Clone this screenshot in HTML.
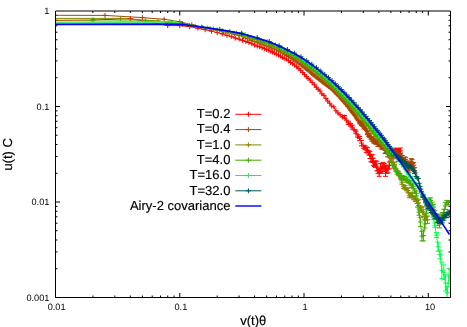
<!DOCTYPE html>
<html><head><meta charset="utf-8"><title>plot</title>
<style>html,body{margin:0;padding:0;background:#fff}svg{display:block;will-change:transform}</style>
</head><body>
<svg width="467" height="327" viewBox="0 0 467 327">
<rect width="467" height="327" fill="#fff"/>
<defs><clipPath id="c"><rect x="55.5" y="11.0" width="395.0" height="286.5"/></clipPath></defs>
<path d="M55.50 297.5v-4.5M55.50 11.0v4.5M92.91 297.5v-2.0M92.91 11.0v2.0M114.79 297.5v-2.0M114.79 11.0v2.0M130.32 297.5v-2.0M130.32 11.0v2.0M142.36 297.5v-2.0M142.36 11.0v2.0M152.20 297.5v-2.0M152.20 11.0v2.0M160.52 297.5v-2.0M160.52 11.0v2.0M167.72 297.5v-2.0M167.72 11.0v2.0M174.08 297.5v-2.0M174.08 11.0v2.0M179.77 297.5v-4.5M179.77 11.0v4.5M217.17 297.5v-2.0M217.17 11.0v2.0M239.06 297.5v-2.0M239.06 11.0v2.0M254.58 297.5v-2.0M254.58 11.0v2.0M266.63 297.5v-2.0M266.63 11.0v2.0M276.46 297.5v-2.0M276.46 11.0v2.0M284.78 297.5v-2.0M284.78 11.0v2.0M291.99 297.5v-2.0M291.99 11.0v2.0M298.35 297.5v-2.0M298.35 11.0v2.0M304.03 297.5v-4.5M304.03 11.0v4.5M341.44 297.5v-2.0M341.44 11.0v2.0M363.32 297.5v-2.0M363.32 11.0v2.0M378.85 297.5v-2.0M378.85 11.0v2.0M390.89 297.5v-2.0M390.89 11.0v2.0M400.73 297.5v-2.0M400.73 11.0v2.0M409.05 297.5v-2.0M409.05 11.0v2.0M416.26 297.5v-2.0M416.26 11.0v2.0M422.61 297.5v-2.0M422.61 11.0v2.0M428.30 297.5v-4.5M428.30 11.0v4.5M55.5 268.75h2.0M450.5 268.75h-2.0M55.5 251.93h2.0M450.5 251.93h-2.0M55.5 240.00h2.0M450.5 240.00h-2.0M55.5 230.75h2.0M450.5 230.75h-2.0M55.5 223.19h2.0M450.5 223.19h-2.0M55.5 216.79h2.0M450.5 216.79h-2.0M55.5 211.25h2.0M450.5 211.25h-2.0M55.5 206.37h2.0M450.5 206.37h-2.0M55.5 202.00h4.5M450.5 202.00h-4.5M55.5 173.25h2.0M450.5 173.25h-2.0M55.5 156.43h2.0M450.5 156.43h-2.0M55.5 144.50h2.0M450.5 144.50h-2.0M55.5 135.25h2.0M450.5 135.25h-2.0M55.5 127.69h2.0M450.5 127.69h-2.0M55.5 121.29h2.0M450.5 121.29h-2.0M55.5 115.75h2.0M450.5 115.75h-2.0M55.5 110.87h2.0M450.5 110.87h-2.0M55.5 106.50h4.5M450.5 106.50h-4.5M55.5 77.75h2.0M450.5 77.75h-2.0M55.5 60.93h2.0M450.5 60.93h-2.0M55.5 49.00h2.0M450.5 49.00h-2.0M55.5 39.75h2.0M450.5 39.75h-2.0M55.5 32.19h2.0M450.5 32.19h-2.0M55.5 25.79h2.0M450.5 25.79h-2.0M55.5 20.25h2.0M450.5 20.25h-2.0M55.5 15.37h2.0M450.5 15.37h-2.0" stroke="#000" stroke-width="1" fill="none"/>
<g clip-path="url(#c)" fill="none" stroke-width="1.0">
<path d="M100 21.6L125 19.6L150 19.8L182 22.6V23.6H100Z" fill="#7be8a0" fill-opacity="0.45" stroke="none"/>
<path d="M55.5 20.35L92.9 20L130.3 18.7L152.2 22.5L167.7 25.6L179.8 25.6L189.6 26.7L197.9 28.2L205.1 29.7L211.5 31.1L217.2 32.6L222.3 33.9L227 35.4L231.3 36.6L235.3 38.1L239.1 39.1L242.5 40.3L245.8 41.5L248.9 42.5L251.8 43.7L254.6 45L257.2 46.1L259.7 46.8L262.1 47.7L264.4 48.7L266.6 49.3L268.7 50.2L270.8 51.3L272.6 52.1L274.4 53L276.4 54.1L278.5 55L280.4 56.1L282.4 57.4L284.2 58.3L286.2 59.1L288.4 60.7L290.6 62.5L292.7 63.7L294.5 65.1L296.7 66.8L298.9 68.6L300.7 70.3L302.8 72.5L304.5 74.6L306.3 76.7L308.2 78.4L310.1 80L312.2 82.6L314.4 84.8L316.3 87.3L318.2 89.3L320 90.9L321.8 93.8L323.9 95.4L325.9 98.4L327.7 101L329.7 103.2L331.7 106L333.8 106.9L335.9 110.8L338 113L340 114.7L342.2 117L344.5 117.1L346.4 120.2L348.3 122.9L350.4 124.8L352.2 127.2L354.1 130L355.9 131.7L357.8 136L359.6 138.5L361.5 143.1L363.7 146.8L365 147.8L366.3 149.7L367.5 150.2L368.7 152.9L369.9 155L371 158.7L372.2 158.4L373.4 161.8L374.5 163.8L375.6 164.1L376.8 166.1L378 170.8L379.2 172.7L380.5 168.1L381.8 168.6L383 167L384.2 166.3L385.5 170.7L386.7 169.6L388 169.1L389.3 165.5L390.5 158.1L391.9 155.2L393 153.3L394.3 152.9L395.6 150.1L396.8 150.8L398 151.6L399.2 151.6L400.3 150.8" stroke="#ff0000"/>
<path d="M92.9 17.5v5M90.4 20h5M130.3 16.2v5M127.8 18.7h5M152.2 20v5M149.7 22.5h5M167.7 23.1v5M165.2 25.6h5M179.8 23.1v5M177.3 25.6h5M189.6 24.2v5M187.1 26.7h5M197.9 25.7v5M195.4 28.2h5M205.1 27.2v5M202.6 29.7h5M211.5 28.6v5M209 31.1h5M217.2 30.1v5M214.7 32.6h5M222.3 31.4v5M219.8 33.9h5M227 32.9v5M224.5 35.4h5M231.3 34.1v5M228.8 36.6h5M235.3 35.6v5M232.8 38.1h5M239.1 36.6v5M236.6 39.1h5M242.5 37.8v5M240 40.3h5M245.8 39v5M243.3 41.5h5M248.9 40v5M246.4 42.5h5M251.8 41.2v5M249.3 43.7h5M254.6 42.5v5M252.1 45h5M257.2 43.6v5M254.7 46.1h5M259.7 44.3v5M257.2 46.8h5M262.1 45.2v5M259.6 47.7h5M264.4 46.2v5M261.9 48.7h5M266.6 46.8v5M264.1 49.3h5M268.7 47.7v5M266.2 50.2h5M270.8 48.8v5M268.3 51.3h5M272.6 49.6v5M270.1 52.1h5M274.4 50.5v5M271.9 53h5M276.4 51.6v5M273.9 54.1h5M278.5 52.5v5M276 55h5M280.4 53.6v5M277.9 56.1h5M282.4 54.9v5M279.9 57.4h5M284.2 55.8v5M281.7 58.3h5M286.2 56.6v5M283.7 59.1h5M288.4 58.2v5M285.9 60.7h5M290.6 60v5M288.1 62.5h5M292.7 61.2v5M290.2 63.7h5M294.5 62.6v5M292 65.1h5M296.7 64.3v5M294.2 66.8h5M298.9 66.1v5M296.4 68.6h5M300.7 67.8v5M298.2 70.3h5M302.8 70v5M300.3 72.5h5M304.5 72.1v5M302 74.6h5M306.3 74.2v5M303.8 76.7h5M308.2 75.9v5M305.7 78.4h5M310.1 77.5v5M307.6 80h5M312.2 80.1v5M309.7 82.6h5M314.4 82.3v5M311.9 84.8h5M316.3 84.8v5M313.8 87.3h5M318.2 86.8v5M315.7 89.3h5M320 88.4v5M317.5 90.9h5M321.8 91.3v5M319.3 93.8h5M323.9 92.9v5M321.4 95.4h5M325.9 95.9v5M323.4 98.4h5M327.7 98.5v5M325.2 101h5M329.7 100.7v5M327.2 103.2h5M331.7 103.5v5M329.2 106h5M333.8 104.4v5M331.3 106.9h5M335.9 108.3v5M333.4 110.8h5M338 110.5v5M335.5 113h5M340 112.2v5M337.5 114.7h5M342.2 114.5v5M339.7 117h5M344.5 114.6v5M342 117.1h5M344.5 115.5V118.6M342 115.5h5M342 118.6h5M346.4 117.7v5M343.9 120.2h5M348.3 120.4v5M345.8 122.9h5M348.3 121.2V124.5M345.8 121.2h5M345.8 124.5h5M350.4 122.3v5M347.9 124.8h5M350.4 123.5V126.1M347.9 123.5h5M347.9 126.1h5M352.2 124.7v5M349.7 127.2h5M352.2 125.2V129.1M349.7 125.2h5M349.7 129.1h5M354.1 127.5v5M351.6 130h5M355.9 129.2v5M353.4 131.7h5M355.9 129.9V133.6M353.4 129.9h5M353.4 133.6h5M357.8 133.5v5M355.3 136h5M357.8 134.7V137.3M355.3 134.7h5M355.3 137.3h5M359.6 136v5M357.1 138.5h5M359.6 136.5V140.6M357.1 136.5h5M357.1 140.6h5M361.5 140.6v5M359 143.1h5M361.5 140.4V145.8M359 140.4h5M359 145.8h5M363.7 144.3v5M361.2 146.8h5M363.7 145.3V148.3M361.2 145.3h5M361.2 148.3h5M365 145.3v5M362.5 147.8h5M365 145.8V149.7M362.5 145.8h5M362.5 149.7h5M366.3 147.2v5M363.8 149.7h5M366.3 147V152.3M363.8 147h5M363.8 152.3h5M367.5 147.7v5M365 150.2h5M367.5 147.7V152.8M365 147.7h5M365 152.8h5M368.7 150.4v5M366.2 152.9h5M368.7 150.9V154.9M366.2 150.9h5M366.2 154.9h5M369.9 152.5v5M367.4 155h5M369.9 151.4V158.5M367.4 151.4h5M367.4 158.5h5M371 156.2v5M368.5 158.7h5M371 155.6V161.7M368.5 155.6h5M368.5 161.7h5M372.2 155.9v5M369.7 158.4h5M372.2 154.4V162.4M369.7 154.4h5M369.7 162.4h5M373.4 159.3v5M370.9 161.8h5M373.4 158.2V165.4M370.9 158.2h5M370.9 165.4h5M374.5 161.3v5M372 163.8h5M374.5 161.1V166.5M372 161.1h5M372 166.5h5M375.6 161.6v5M373.1 164.1h5M375.6 160.9V167.4M373.1 160.9h5M373.1 167.4h5M376.8 163.6v5M374.3 166.1h5M376.8 161.3V170.9M374.3 161.3h5M374.3 170.9h5M378 168.3v5M375.5 170.8h5M378 168V173.6M375.5 168h5M375.5 173.6h5M379.2 170.2v5M376.7 172.7h5M379.2 169.1V176.3M376.7 169.1h5M376.7 176.3h5M380.5 165.6v5M378 168.1h5M380.5 163.6V172.6M378 163.6h5M378 172.6h5M381.8 166.1v5M379.3 168.6h5M381.8 163.8V173.3M379.3 163.8h5M379.3 173.3h5M383 164.5v5M380.5 167h5M383 162.4V171.5M380.5 162.4h5M380.5 171.5h5M384.2 163.8v5M381.7 166.3h5M384.2 163.6V169M381.7 163.6h5M381.7 169h5M385.5 168.2v5M383 170.7h5M385.5 165.2V176.3M383 165.2h5M383 176.3h5M386.7 167.1v5M384.2 169.6h5M386.7 165.8V173.4M384.2 165.8h5M384.2 173.4h5M388 166.6v5M385.5 169.1h5M388 165.3V172.9M385.5 165.3h5M385.5 172.9h5M389.3 163v5M386.8 165.5h5M389.3 162.1V168.9M386.8 162.1h5M386.8 168.9h5M390.5 155.6v5M388 158.1h5M390.5 155V161.1M388 155h5M388 161.1h5M391.9 152.7v5M389.4 155.2h5M391.9 152.8V157.6M389.4 152.8h5M389.4 157.6h5M393 150.8v5M390.5 153.3h5M393 150.7V155.9M390.5 150.7h5M390.5 155.9h5M394.3 150.4v5M391.8 152.9h5M394.3 149.6V156.3M391.8 149.6h5M391.8 156.3h5M395.6 147.6v5M393.1 150.1h5M395.6 148.2V152M393.1 148.2h5M393.1 152h5M396.8 148.3v5M394.3 150.8h5M396.8 149.5V152.1M394.3 149.5h5M394.3 152.1h5M398 149.1v5M395.5 151.6h5M398 148.8V154.4M395.5 148.8h5M395.5 154.4h5M399.2 149.1v5M396.7 151.6h5M399.2 149V154.3M396.7 149h5M396.7 154.3h5M400.3 148.3v5M397.8 150.8h5M400.3 148V153.6M397.8 148h5M397.8 153.6h5" stroke="#ff0000"/>
<path d="M55.5 15.30L105 15.4L142.4 17.6L164.2 19.3L179.8 21.8L191.8 24.7L201.6 27.2L210 28.8L217.2 30.3L223.5 31.7L229.2 32.9L234.4 34.1L239.1 35.3L243.4 36.9L247.4 38.5L251.1 40.3L254.6 41.6L257.9 42.8L260.9 43.9L263.9 45L266.6 45.9L269.3 47L271.8 48L274.2 48.9L276.5 50L278.7 51.2L280.8 52.1L282.8 53L284.8 54.3L286.7 55.4L288.5 56.5L290.3 57.4L292 58.5L293.7 59.8L295.3 60.7L296.8 61.8L298.3 63L299.8 63.9L301.3 65.1L302.7 65.9L304 67L305.4 68L306.7 69.2L307.9 70.1L309.2 71.1L310.4 72.1L311.6 73.3L312.7 74.3L313.9 75.1L315 76.1L316.1 76.9L317.1 77.7L318.2 78.6L319.2 79.5L320.2 79.8L321.2 81L322.2 81.8L323.1 82.2L324.1 83.1L325 83.8L325.9 84.3L326.8 85L327.7 85.7L328.5 86.3L329.4 86.8L330.2 87.6L331.1 88.1L331.9 88.7L332.6 89.5L333.4 90.3L334.2 91L335 92.2L335.7 92.8L336.6 93.8L337.5 94.3L338.2 95L339.1 96L339.8 96.8L340.6 98L341.4 99L342.3 99.6L343.1 100.7L343.8 101.5L344.6 102.3L345.5 103.7L346.3 104.4L347.1 105L347.8 106.5L348.7 107.1L349.4 108.1L350.1 109.2L350.8 110.4L351.6 111.3L352.4 112.5L353.2 113.3L354.1 114.3L354.9 115.6L355.7 116.8L356.5 118.2L357.3 119.2L358.1 120.7L359 121.1L359.8 122.4L360.7 122.8L361.5 124.3L362.4 126.2L363.2 124.9L364 127.6L364.8 128L365.7 129.4L366.4 130.5L367.3 133L368.1 133.9L368.9 135.2L369.6 135.8L370.4 137.4L371.2 138.1L371.9 139.3L372.6 138.5L373.5 140.9L374.3 141L375 142.1L375.8 142L376.5 142L377.2 142.1L378 144.7L378.8 143.8L379.5 143.5L380.3 144.7L381.2 146.7L381.9 145.2L382.7 147.2L383.5 147L384.3 147.4L385.1 150.5L385.9 150.3L386.8 148.9L387.6 153.8L388.4 151.6L389.2 154.1L390 152.8L390.9 153.9L391.6 154.8L392.5 154.3L393.2 155.1L394 155.4L394.8 154.1L395.6 154.4L396.4 155.5L397.3 156.2L398.2 158.2L399 157.7L399.8 157.3L400.7 155.6L401.5 158.1L402.3 158.3L403 162.2L403.8 163.8L404.7 159.6L405.5 159.3L406.4 165L407.2 168L408.1 163.2L408.8 170.9L409.6 164.9L410.5 166.6L411.2 161.8L412.1 163.2L412.8 165.8L413.7 165.2L414.5 170.6" stroke="#aa4400"/>
<path d="M105 12.9v5M102.5 15.4h5M142.4 15.1v5M139.9 17.6h5M164.2 16.8v5M161.7 19.3h5M179.8 19.3v5M177.3 21.8h5M191.8 22.2v5M189.3 24.7h5M201.6 24.7v5M199.1 27.2h5M210 26.3v5M207.5 28.8h5M217.2 27.8v5M214.7 30.3h5M223.5 29.2v5M221 31.7h5M229.2 30.4v5M226.7 32.9h5M234.4 31.6v5M231.9 34.1h5M239.1 32.8v5M236.6 35.3h5M243.4 34.4v5M240.9 36.9h5M247.4 36v5M244.9 38.5h5M251.1 37.8v5M248.6 40.3h5M254.6 39.1v5M252.1 41.6h5M257.9 40.3v5M255.4 42.8h5M260.9 41.4v5M258.4 43.9h5M263.9 42.5v5M261.4 45h5M266.6 43.4v5M264.1 45.9h5M269.3 44.5v5M266.8 47h5M271.8 45.5v5M269.3 48h5M274.2 46.4v5M271.7 48.9h5M276.5 47.5v5M274 50h5M278.7 48.7v5M276.2 51.2h5M280.8 49.6v5M278.3 52.1h5M282.8 50.5v5M280.3 53h5M284.8 51.8v5M282.3 54.3h5M286.7 52.9v5M284.2 55.4h5M288.5 54v5M286 56.5h5M290.3 54.9v5M287.8 57.4h5M292 56v5M289.5 58.5h5M293.7 57.3v5M291.2 59.8h5M295.3 58.2v5M292.8 60.7h5M296.8 59.3v5M294.3 61.8h5M298.3 60.5v5M295.8 63h5M299.8 61.4v5M297.3 63.9h5M301.3 62.6v5M298.8 65.1h5M302.7 63.4v5M300.2 65.9h5M304 64.5v5M301.5 67h5M305.4 65.5v5M302.9 68h5M306.7 66.7v5M304.2 69.2h5M307.9 67.6v5M305.4 70.1h5M309.2 68.6v5M306.7 71.1h5M310.4 69.6v5M307.9 72.1h5M311.6 70.8v5M309.1 73.3h5M312.7 71.8v5M310.2 74.3h5M313.9 72.6v5M311.4 75.1h5M315 73.6v5M312.5 76.1h5M316.1 74.4v5M313.6 76.9h5M317.1 75.2v5M314.6 77.7h5M318.2 76.1v5M315.7 78.6h5M319.2 77v5M316.7 79.5h5M320.2 77.3v5M317.7 79.8h5M321.2 78.5v5M318.7 81h5M322.2 79.3v5M319.7 81.8h5M323.1 79.7v5M320.6 82.2h5M324.1 80.6v5M321.6 83.1h5M325 81.3v5M322.5 83.8h5M325.9 81.8v5M323.4 84.3h5M326.8 82.5v5M324.3 85h5M327.7 83.2v5M325.2 85.7h5M328.5 83.8v5M326 86.3h5M329.4 84.3v5M326.9 86.8h5M330.2 85.1v5M327.7 87.6h5M331.1 85.6v5M328.6 88.1h5M331.9 86.2v5M329.4 88.7h5M332.6 87v5M330.1 89.5h5M333.4 87.8v5M330.9 90.3h5M334.2 88.5v5M331.7 91h5M335 89.7v5M332.5 92.2h5M335.7 90.3v5M333.2 92.8h5M336.6 91.3v5M334.1 93.8h5M337.5 91.8v5M335 94.3h5M338.2 92.5v5M335.7 95h5M339.1 93.5v5M336.6 96h5M339.8 94.3v5M337.3 96.8h5M340.6 95.5v5M338.1 98h5M341.4 96.5v5M338.9 99h5M342.3 97.1v5M339.8 99.6h5M343.1 98.2v5M340.6 100.7h5M343.8 99v5M341.3 101.5h5M344.6 99.8v5M342.1 102.3h5M345.5 101.2v5M343 103.7h5M346.3 101.9v5M343.8 104.4h5M347.1 102.5v5M344.6 105h5M347.8 104v5M345.3 106.5h5M348.7 104.6v5M346.2 107.1h5M349.4 105.6v5M346.9 108.1h5M350.1 106.7v5M347.6 109.2h5M350.8 107.9v5M348.3 110.4h5M351.6 108.8v5M349.1 111.3h5M352.4 110v5M349.9 112.5h5M353.2 110.8v5M350.7 113.3h5M354.1 111.8v5M351.6 114.3h5M354.9 113.1v5M352.4 115.6h5M355.7 114.3v5M353.2 116.8h5M356.5 115.7v5M354 118.2h5M357.3 116.7v5M354.8 119.2h5M358.1 118.2v5M355.6 120.7h5M359 118.6v5M356.5 121.1h5M359.8 119.9v5M357.3 122.4h5M359.8 121.1V123.6M357.3 121.1h5M357.3 123.6h5M360.7 120.3v5M358.2 122.8h5M360.7 121.5V124.1M358.2 121.5h5M358.2 124.1h5M361.5 121.8v5M359 124.3h5M361.5 123.1V125.6M359 123.1h5M359 125.6h5M362.4 123.7v5M359.9 126.2h5M363.2 122.4v5M360.7 124.9h5M363.2 123.6V126.1M360.7 123.6h5M360.7 126.1h5M364 125.1v5M361.5 127.6h5M364 126.2V129M361.5 126.2h5M361.5 129h5M364.8 125.5v5M362.3 128h5M365.7 126.9v5M363.2 129.4h5M366.4 128v5M363.9 130.5h5M367.3 130.5v5M364.8 133h5M367.3 131.5V134.6M364.8 131.5h5M364.8 134.6h5M368.1 131.4v5M365.6 133.9h5M368.9 132.7v5M366.4 135.2h5M368.9 133.9V136.5M366.4 133.9h5M366.4 136.5h5M369.6 133.3v5M367.1 135.8h5M369.6 133.9V137.7M367.1 133.9h5M367.1 137.7h5M370.4 134.9v5M367.9 137.4h5M371.2 135.6v5M368.7 138.1h5M371.2 136.7V139.4M368.7 136.7h5M368.7 139.4h5M371.9 136.8v5M369.4 139.3h5M371.9 137.4V141.3M369.4 137.4h5M369.4 141.3h5M372.6 136v5M370.1 138.5h5M372.6 136.9V140.1M370.1 136.9h5M370.1 140.1h5M373.5 138.4v5M371 140.9h5M373.5 138.7V143M371 138.7h5M371 143h5M374.3 138.5v5M371.8 141h5M374.3 139.6V142.3M371.8 139.6h5M371.8 142.3h5M375 139.6v5M372.5 142.1h5M375 140.6V143.5M372.5 140.6h5M372.5 143.5h5M375.8 139.5v5M373.3 142h5M375.8 139.8V144.2M373.3 139.8h5M373.3 144.2h5M376.5 139.5v5M374 142h5M376.5 140.5V143.4M374 140.5h5M374 143.4h5M377.2 139.6v5M374.7 142.1h5M377.2 140.3V144M374.7 140.3h5M374.7 144h5M378 142.2v5M375.5 144.7h5M378 142.9V146.4M375.5 142.9h5M375.5 146.4h5M378.8 141.3v5M376.3 143.8h5M378.8 141.4V146.2M376.3 141.4h5M376.3 146.2h5M379.5 141v5M377 143.5h5M379.5 142V144.9M377 142h5M377 144.9h5M380.3 142.2v5M377.8 144.7h5M380.3 142.8V146.7M377.8 142.8h5M377.8 146.7h5M381.2 144.2v5M378.7 146.7h5M381.2 144.5V149M378.7 144.5h5M378.7 149h5M381.9 142.7v5M379.4 145.2h5M381.9 142.7V147.7M379.4 142.7h5M379.4 147.7h5M382.7 144.7v5M380.2 147.2h5M382.7 145.1V149.3M380.2 145.1h5M380.2 149.3h5M383.5 144.5v5M381 147h5M383.5 144.6V149.4M381 144.6h5M381 149.4h5M384.3 144.9v5M381.8 147.4h5M384.3 145.6V149.2M381.8 145.6h5M381.8 149.2h5M385.1 148v5M382.6 150.5h5M385.1 147.5V153.4M382.6 147.5h5M382.6 153.4h5M385.9 147.8v5M383.4 150.3h5M385.9 147.9V152.7M383.4 147.9h5M383.4 152.7h5M386.8 146.4v5M384.3 148.9h5M386.8 146.3V151.4M384.3 146.3h5M384.3 151.4h5M387.6 151.3v5M385.1 153.8h5M387.6 150.8V156.9M385.1 150.8h5M385.1 156.9h5M388.4 149.1v5M385.9 151.6h5M388.4 149.2V154M385.9 149.2h5M385.9 154h5M389.2 151.6v5M386.7 154.1h5M389.2 151.8V156.5M386.7 151.8h5M386.7 156.5h5M390 150.3v5M387.5 152.8h5M390 150.1V155.5M387.5 150.1h5M387.5 155.5h5M390.9 151.4v5M388.4 153.9h5M390.9 150.9V156.9M388.4 150.9h5M388.4 156.9h5M391.6 152.3v5M389.1 154.8h5M391.6 153.1V156.6M389.1 153.1h5M389.1 156.6h5M392.5 151.8v5M390 154.3h5M392.5 152.7V155.9M390 152.7h5M390 155.9h5M393.2 152.6v5M390.7 155.1h5M393.2 152.3V157.8M390.7 152.3h5M390.7 157.8h5M394 152.9v5M391.5 155.4h5M394 153.1V157.8M391.5 153.1h5M391.5 157.8h5M394.8 151.6v5M392.3 154.1h5M394.8 151.6V156.6M392.3 151.6h5M392.3 156.6h5M395.6 151.9v5M393.1 154.4h5M395.6 150.9V157.9M393.1 150.9h5M393.1 157.9h5M396.4 153v5M393.9 155.5h5M396.4 153.1V158M393.9 153.1h5M393.9 158h5M397.3 153.7v5M394.8 156.2h5M397.3 153.7V158.7M394.8 153.7h5M394.8 158.7h5M398.2 155.7v5M395.7 158.2h5M398.2 155V161.4M395.7 155h5M395.7 161.4h5M399 155.2v5M396.5 157.7h5M399 155.6V159.9M396.5 155.6h5M396.5 159.9h5M399.8 154.8v5M397.3 157.3h5M399.8 154.7V160M397.3 154.7h5M397.3 160h5M400.7 153.1v5M398.2 155.6h5M400.7 153.1V158.1M398.2 153.1h5M398.2 158.1h5M401.5 155.6v5M399 158.1h5M401.5 155.3V160.8M399 155.3h5M399 160.8h5M402.3 155.8v5M399.8 158.3h5M402.3 155.5V161.1M399.8 155.5h5M399.8 161.1h5M403 159.7v5M400.5 162.2h5M403 160.2V164.3M400.5 160.2h5M400.5 164.3h5M403.8 161.3v5M401.3 163.8h5M403.8 161.3V166.3M401.3 161.3h5M401.3 166.3h5M404.7 157.1v5M402.2 159.6h5M404.7 157.1V162M402.2 157.1h5M402.2 162h5M405.5 156.8v5M403 159.3h5M405.5 157.3V161.3M403 157.3h5M403 161.3h5M406.4 162.5v5M403.9 165h5M406.4 161.9V168M403.9 161.9h5M403.9 168h5M407.2 165.5v5M404.7 168h5M407.2 165.5V170.5M404.7 165.5h5M404.7 170.5h5M408.1 160.7v5M405.6 163.2h5M408.1 161V165.4M405.6 161h5M405.6 165.4h5M408.8 168.4v5M406.3 170.9h5M408.8 168.9V172.8M406.3 168.9h5M406.3 172.8h5M409.6 162.4v5M407.1 164.9h5M409.6 162.3V167.6M407.1 162.3h5M407.1 167.6h5M410.5 164.1v5M408 166.6h5M410.5 164.3V168.8M408 164.3h5M408 168.8h5M411.2 159.3v5M408.7 161.8h5M411.2 158.6V165M408.7 158.6h5M408.7 165h5M412.1 160.7v5M409.6 163.2h5M412.1 159.6V166.7M409.6 159.6h5M409.6 166.7h5M412.8 163.3v5M410.3 165.8h5M412.8 163V168.5M410.3 163h5M410.3 168.5h5M413.7 162.7v5M411.2 165.2h5M413.7 162.6V167.9M411.2 162.6h5M411.2 167.9h5M414.5 168.1v5M412 170.6h5M414.5 167.7V173.5M412 167.7h5M412 173.5h5" stroke="#aa4400"/>
<path d="M55.5 18.40L120.5 18.4L157.9 20.9L179.8 23.5L195.3 26.3L207.3 28.4L217.2 30.1L225.5 31.7L232.7 33.1L239.1 34.6L244.7 36.2L249.9 38L254.6 39.6L258.9 41L262.9 42.3L266.6 43.6L270.1 44.9L273.4 46.2L276.5 47.5L279.4 49L282.2 50.3L284.8 51.6L287.3 52.9L289.7 54.2L292 55.5L294.2 56.9L296.3 58.2L298.3 59.5L300.3 60.7L302.2 62.1L304 63.4L305.8 64.6L307.5 65.9L309.2 67.2L310.8 68.4L312.4 69.7L313.9 70.8L315.5 72L316.9 73.3L318.5 74.7L320.2 76.1L321.9 77.5L323.3 78.8L324.9 80.1L326.5 81.6L328 83.1L329.6 84.4L330.9 85.7L332.4 87L333.7 88.3L335.3 90L336.8 91.5L338.4 93.2L339.8 94.6L341.2 95.9L342.5 97.6L344 98.7L345.6 100.5L347 102L348.5 103.6L350.1 105.4L351.4 107L352.8 108.5L354.3 110.1L356 112L357.3 113.8L358.9 115.5L360.5 117.1L361.8 118.9L363.4 120.5L364.9 122.6L366.4 124.9L368.1 126.7L369.4 128.7L370.8 130.6L372.4 132L373.8 134L375.2 136.3L376.8 138L378.4 139.5L379.8 141.8L381.3 143.6L382.7 145.4L384.2 147L385.7 149.2L387.3 151.2L388.7 154.1L390.2 156.8L391.8 159.7L393.1 162L394.5 164.4L395.9 168.2L397.2 170.3L398.9 174.4L400.5 177.5L401.9 182.1L403.4 186.7L404.9 187.3L406.3 189.2L407.9 190.5L409.4 195.8L410.7 194.5L412.1 195.4L413.6 198.2L415.2 199.2L416.9 200.8L418.5 202.8L420 208.2L421.4 210L423 211.7L424.5 216.7L425.9 217.2L427.5 219.7" stroke="#888800"/>
<path d="M120.5 15.9v5M118 18.4h5M157.9 18.4v5M155.4 20.9h5M179.8 21v5M177.3 23.5h5M195.3 23.8v5M192.8 26.3h5M207.3 25.9v5M204.8 28.4h5M217.2 27.6v5M214.7 30.1h5M225.5 29.2v5M223 31.7h5M232.7 30.6v5M230.2 33.1h5M239.1 32.1v5M236.6 34.6h5M244.7 33.7v5M242.2 36.2h5M249.9 35.5v5M247.4 38h5M254.6 37.1v5M252.1 39.6h5M258.9 38.5v5M256.4 41h5M262.9 39.8v5M260.4 42.3h5M266.6 41.1v5M264.1 43.6h5M270.1 42.4v5M267.6 44.9h5M273.4 43.7v5M270.9 46.2h5M276.5 45v5M274 47.5h5M279.4 46.5v5M276.9 49h5M282.2 47.8v5M279.7 50.3h5M284.8 49.1v5M282.3 51.6h5M287.3 50.4v5M284.8 52.9h5M289.7 51.7v5M287.2 54.2h5M292 53v5M289.5 55.5h5M294.2 54.4v5M291.7 56.9h5M296.3 55.7v5M293.8 58.2h5M298.3 57v5M295.8 59.5h5M300.3 58.2v5M297.8 60.7h5M302.2 59.6v5M299.7 62.1h5M304 60.9v5M301.5 63.4h5M305.8 62.1v5M303.3 64.6h5M307.5 63.4v5M305 65.9h5M309.2 64.7v5M306.7 67.2h5M310.8 65.9v5M308.3 68.4h5M312.4 67.2v5M309.9 69.7h5M313.9 68.3v5M311.4 70.8h5M315.5 69.5v5M313 72h5M316.9 70.8v5M314.4 73.3h5M318.5 72.2v5M316 74.7h5M320.2 73.6v5M317.7 76.1h5M321.9 75v5M319.4 77.5h5M323.3 76.3v5M320.8 78.8h5M324.9 77.6v5M322.4 80.1h5M326.5 79.1v5M324 81.6h5M328 80.6v5M325.5 83.1h5M329.6 81.9v5M327.1 84.4h5M330.9 83.2v5M328.4 85.7h5M332.4 84.5v5M329.9 87h5M333.7 85.8v5M331.2 88.3h5M335.3 87.5v5M332.8 90h5M336.8 89v5M334.3 91.5h5M338.4 90.7v5M335.9 93.2h5M339.8 92.1v5M337.3 94.6h5M341.2 93.4v5M338.7 95.9h5M342.5 95.1v5M340 97.6h5M344 96.2v5M341.5 98.7h5M345.6 98v5M343.1 100.5h5M347 99.5v5M344.5 102h5M348.5 101.1v5M346 103.6h5M350.1 102.9v5M347.6 105.4h5M351.4 104.5v5M348.9 107h5M352.8 106v5M350.3 108.5h5M354.3 107.6v5M351.8 110.1h5M356 109.5v5M353.5 112h5M357.3 111.3v5M354.8 113.8h5M358.9 113v5M356.4 115.5h5M360.5 114.6v5M358 117.1h5M361.8 116.4v5M359.3 118.9h5M363.4 118v5M360.9 120.5h5M364.9 120.1v5M362.4 122.6h5M366.4 122.4v5M363.9 124.9h5M368.1 124.2v5M365.6 126.7h5M369.4 126.2v5M366.9 128.7h5M370.8 128.1v5M368.3 130.6h5M372.4 129.5v5M369.9 132h5M373.8 131.5v5M371.3 134h5M375.2 133.8v5M372.7 136.3h5M376.8 135.5v5M374.3 138h5M378.4 137v5M375.9 139.5h5M379.8 139.3v5M377.3 141.8h5M381.3 141.1v5M378.8 143.6h5M382.7 142.9v5M380.2 145.4h5M384.2 144.5v5M381.7 147h5M385.7 146.7v5M383.2 149.2h5M387.3 148.7v5M384.8 151.2h5M388.7 151.6v5M386.2 154.1h5M390.2 154.3v5M387.7 156.8h5M391.8 157.2v5M389.3 159.7h5M393.1 159.5v5M390.6 162h5M394.5 161.9v5M392 164.4h5M394.5 162.8V166M392 162.8h5M392 166h5M395.9 165.7v5M393.4 168.2h5M397.2 167.8v5M394.7 170.3h5M398.9 171.9v5M396.4 174.4h5M398.9 173.1V175.7M396.4 173.1h5M396.4 175.7h5M400.5 175v5M398 177.5h5M400.5 175.9V179M398 175.9h5M398 179h5M401.9 179.6v5M399.4 182.1h5M401.9 180V184.2M399.4 180h5M399.4 184.2h5M403.4 184.2v5M400.9 186.7h5M403.4 184.8V188.6M400.9 184.8h5M400.9 188.6h5M404.9 184.8v5M402.4 187.3h5M404.9 185.5V189.1M402.4 185.5h5M402.4 189.1h5M406.3 186.7v5M403.8 189.2h5M406.3 187.6V190.8M403.8 187.6h5M403.8 190.8h5M407.9 188v5M405.4 190.5h5M407.9 188.3V192.7M405.4 188.3h5M405.4 192.7h5M409.4 193.3v5M406.9 195.8h5M409.4 193.8V197.8M406.9 193.8h5M406.9 197.8h5M410.7 192v5M408.2 194.5h5M410.7 192.2V196.8M408.2 192.2h5M408.2 196.8h5M412.1 192.9v5M409.6 195.4h5M412.1 193.3V197.4M409.6 193.3h5M409.6 197.4h5M413.6 195.7v5M411.1 198.2h5M413.6 196.6V199.7M411.1 196.6h5M411.1 199.7h5M415.2 196.7v5M412.7 199.2h5M415.2 196.7V201.6M412.7 196.7h5M412.7 201.6h5M416.9 198.3v5M414.4 200.8h5M416.9 198.3V203.3M414.4 198.3h5M414.4 203.3h5M418.5 200.3v5M416 202.8h5M418.5 199.8V205.7M416 199.8h5M416 205.7h5M420 205.7v5M417.5 208.2h5M420 205.9V210.5M417.5 205.9h5M417.5 210.5h5M421.4 207.5v5M418.9 210h5M421.4 207.2V212.7M418.9 207.2h5M418.9 212.7h5M423 209.2v5M420.5 211.7h5M423 206.8V216.6M420.5 206.8h5M420.5 216.6h5M424.5 214.2v5M422 216.7h5M424.5 214.3V219.1M422 214.3h5M422 219.1h5M425.9 214.7v5M423.4 217.2h5M425.9 213.8V220.5M423.4 213.8h5M423.4 220.5h5M427.5 217.2v5M425 219.7h5M427.5 216.1V223.4M425 216.1h5M425 223.4h5" stroke="#888800"/>
<path d="M55.5 20.35L92.4 20.7" stroke="#44aa00" stroke-opacity="0.45"/>
<path d="M92.4 20.7L145.6 20.7" stroke="#44aa00" stroke-opacity="0.5"/>
<path d="M145.6 20.7L171.9 23.4L189.5 25.5L202.8 27.4L213.4 29.1L222.3 30.6L229.9 31.9L236.6 33.2L242.5 34.6L247.9 36.3L252.7 37.9L257.2 39.3L261.3 40.6L265.1 41.9L268.7 43.2L272.1 44.5L275.2 45.8L278.2 47.2L281 48.6L283.7 49.9L286.3 51.1L288.7 52.5L291.1 53.8L293.3 55L295.5 56.3L297.5 57.6L299.5 58.8L301.4 60L303.3 61.3L305.1 62.5L306.8 63.7L308.5 65L310.1 66.3L311.7 67.4L313.3 68.6L314.8 69.8L316.4 71.2L318 72.4L319.3 73.5L320.8 74.8L322.4 76.2L323.9 77.4L325.4 78.7L326.9 80L328.3 81.4L329.9 82.6L331.3 84.2L332.8 85.6L334.2 86.9L335.7 88.4L337.1 89.6L338.8 91.3L340.2 92.9L341.8 94.6L343.4 96.1L345.1 98L346.4 99.3L347.8 100.7L349.3 102.5L350.9 104.2L352.3 105.8L353.9 107.4L355.4 109.3L356.8 110.8L358.3 112.6L359.9 114.7L361.2 115.9L362.8 117.8L364.2 119.3L365.8 121.9L367.3 123.6L368.8 125L370.5 127.7L372 128.9L373.4 130.6L374.8 132.3L376.4 134.6L377.8 135.7L379.2 138L380.6 140.2L382.3 142.7L383.7 145L385.2 147.5L386.8 150.4L388.4 153.4L389.8 157.7L391.2 162.2L392.6 165.1L394 167.4L395.7 170L397.1 172.8L398.4 173.3L399.9 174.8L401.4 178.4L403 177.5L404.5 178.1L406.1 180.6L407.4 179.8L409 181.8L410.3 183.1L411.7 185.8L413.2 186.3L414.6 190.9L416.2 193.4L417.6 203.6L419 212.2L420.4 222L421.9 236.2L423.4 235.5L424.9 223.9L426.3 213L427.8 205L429.3 200.2L430.6 200.5L432.2 205L433.6 207.1L434.9 213.5L436.6 218.2L437.9 221.5L439.5 221.5L441 219.3L442.3 216.8L443.8 212.6L445.3 205.9L446.8 202.6L448.5 202.7" stroke="#44aa00"/>
<path d="M92.4 18.2v5M89.9 20.7h5M145.6 18.2v5M143.1 20.7h5M171.9 20.9v5M169.4 23.4h5M189.5 23v5M187 25.5h5M202.8 24.9v5M200.3 27.4h5M213.4 26.6v5M210.9 29.1h5M222.3 28.1v5M219.8 30.6h5M229.9 29.4v5M227.4 31.9h5M236.6 30.7v5M234.1 33.2h5M242.5 32.1v5M240 34.6h5M247.9 33.8v5M245.4 36.3h5M252.7 35.4v5M250.2 37.9h5M257.2 36.8v5M254.7 39.3h5M261.3 38.1v5M258.8 40.6h5M265.1 39.4v5M262.6 41.9h5M268.7 40.7v5M266.2 43.2h5M272.1 42v5M269.6 44.5h5M275.2 43.3v5M272.7 45.8h5M278.2 44.7v5M275.7 47.2h5M281 46.1v5M278.5 48.6h5M283.7 47.4v5M281.2 49.9h5M286.3 48.6v5M283.8 51.1h5M288.7 50v5M286.2 52.5h5M291.1 51.3v5M288.6 53.8h5M293.3 52.5v5M290.8 55h5M295.5 53.8v5M293 56.3h5M297.5 55.1v5M295 57.6h5M299.5 56.3v5M297 58.8h5M301.4 57.5v5M298.9 60h5M303.3 58.8v5M300.8 61.3h5M305.1 60v5M302.6 62.5h5M306.8 61.2v5M304.3 63.7h5M308.5 62.5v5M306 65h5M310.1 63.8v5M307.6 66.3h5M311.7 64.9v5M309.2 67.4h5M313.3 66.1v5M310.8 68.6h5M314.8 67.3v5M312.3 69.8h5M316.4 68.7v5M313.9 71.2h5M318 69.9v5M315.5 72.4h5M319.3 71v5M316.8 73.5h5M320.8 72.3v5M318.3 74.8h5M322.4 73.7v5M319.9 76.2h5M323.9 74.9v5M321.4 77.4h5M325.4 76.2v5M322.9 78.7h5M326.9 77.5v5M324.4 80h5M328.3 78.9v5M325.8 81.4h5M329.9 80.1v5M327.4 82.6h5M331.3 81.7v5M328.8 84.2h5M332.8 83.1v5M330.3 85.6h5M334.2 84.4v5M331.7 86.9h5M335.7 85.9v5M333.2 88.4h5M337.1 87.1v5M334.6 89.6h5M338.8 88.8v5M336.3 91.3h5M340.2 90.4v5M337.7 92.9h5M341.8 92.1v5M339.3 94.6h5M343.4 93.6v5M340.9 96.1h5M345.1 95.5v5M342.6 98h5M346.4 96.8v5M343.9 99.3h5M347.8 98.2v5M345.3 100.7h5M349.3 100v5M346.8 102.5h5M350.9 101.7v5M348.4 104.2h5M352.3 103.3v5M349.8 105.8h5M353.9 104.9v5M351.4 107.4h5M355.4 106.8v5M352.9 109.3h5M356.8 108.3v5M354.3 110.8h5M358.3 110.1v5M355.8 112.6h5M359.9 112.2v5M357.4 114.7h5M361.2 113.4v5M358.7 115.9h5M362.8 115.3v5M360.3 117.8h5M364.2 116.8v5M361.7 119.3h5M365.8 119.4v5M363.3 121.9h5M367.3 121.1v5M364.8 123.6h5M368.8 122.5v5M366.3 125h5M370.5 125.2v5M368 127.7h5M372 126.4v5M369.5 128.9h5M373.4 128.1v5M370.9 130.6h5M374.8 129.8v5M372.3 132.3h5M376.4 132.1v5M373.9 134.6h5M377.8 133.2v5M375.3 135.7h5M379.2 135.5v5M376.7 138h5M380.6 137.7v5M378.1 140.2h5M382.3 140.2v5M379.8 142.7h5M383.7 142.5v5M381.2 145h5M385.2 145v5M382.7 147.5h5M386.8 147.9v5M384.3 150.4h5M388.4 150.9v5M385.9 153.4h5M388.4 152.1V154.8M385.9 152.1h5M385.9 154.8h5M389.8 155.2v5M387.3 157.7h5M391.2 159.7v5M388.7 162.2h5M392.6 162.6v5M390.1 165.1h5M394 164.9v5M391.5 167.4h5M394 166V168.8M391.5 166h5M391.5 168.8h5M395.7 167.5v5M393.2 170h5M395.7 168.8V171.3M393.2 168.8h5M393.2 171.3h5M397.1 170.3v5M394.6 172.8h5M397.1 171.5V174.2M394.6 171.5h5M394.6 174.2h5M398.4 170.8v5M395.9 173.3h5M398.4 171.4V175.2M395.9 171.4h5M395.9 175.2h5M399.9 172.3v5M397.4 174.8h5M399.9 173.5V176.1M397.4 173.5h5M397.4 176.1h5M401.4 175.9v5M398.9 178.4h5M401.4 177V179.8M398.9 177h5M398.9 179.8h5M403 175v5M400.5 177.5h5M403 175.8V179.2M400.5 175.8h5M400.5 179.2h5M404.5 175.6v5M402 178.1h5M404.5 176.5V179.8M402 176.5h5M402 179.8h5M406.1 178.1v5M403.6 180.6h5M406.1 179V182.2M403.6 179h5M403.6 182.2h5M407.4 177.3v5M404.9 179.8h5M407.4 178V181.6M404.9 178h5M404.9 181.6h5M409 179.3v5M406.5 181.8h5M409 180.4V183.3M406.5 180.4h5M406.5 183.3h5M410.3 180.6v5M407.8 183.1h5M410.3 181.3V185M407.8 181.3h5M407.8 185h5M411.7 183.3v5M409.2 185.8h5M411.7 184.2V187.5M409.2 184.2h5M409.2 187.5h5M413.2 183.8v5M410.7 186.3h5M413.2 183.7V188.8M410.7 183.7h5M410.7 188.8h5M414.6 188.4v5M412.1 190.9h5M414.6 189V192.7M412.1 189h5M412.1 192.7h5M416.2 190.9v5M413.7 193.4h5M416.2 191V195.8M413.7 191h5M413.7 195.8h5M417.6 201.1v5M415.1 203.6h5M417.6 200.1V207.1M415.1 200.1h5M415.1 207.1h5M419 209.7v5M416.5 212.2h5M419 209V215.3M416.5 209h5M416.5 215.3h5M420.4 219.5v5M417.9 222h5M420.4 217.4V226.6M417.9 217.4h5M417.9 226.6h5M421.9 233.7v5M419.4 236.2h5M421.9 231.6V240.9M419.4 231.6h5M419.4 240.9h5M423.4 233v5M420.9 235.5h5M423.4 230V240.9M420.9 230h5M420.9 240.9h5M424.9 221.4v5M422.4 223.9h5M424.9 219.8V228M422.4 219.8h5M422.4 228h5M426.3 210.5v5M423.8 213h5M426.3 209.7V216.2M423.8 209.7h5M423.8 216.2h5M427.8 202.5v5M425.3 205h5M427.8 202.1V208M425.3 202.1h5M425.3 208h5M429.3 197.7v5M426.8 200.2h5M429.3 198.9V201.6M426.8 198.9h5M426.8 201.6h5M430.6 198v5M428.1 200.5h5M430.6 197.8V203.2M428.1 197.8h5M428.1 203.2h5M432.2 202.5v5M429.7 205h5M432.2 202.1V207.9M429.7 202.1h5M429.7 207.9h5M433.6 204.6v5M431.1 207.1h5M433.6 204.3V209.8M431.1 204.3h5M431.1 209.8h5M434.9 211v5M432.4 213.5h5M434.9 210.8V216.3M432.4 210.8h5M432.4 216.3h5M436.6 215.7v5M434.1 218.2h5M436.6 214.2V222.1M434.1 214.2h5M434.1 222.1h5M437.9 219v5M435.4 221.5h5M437.9 217.5V225.5M435.4 217.5h5M435.4 225.5h5M439.5 219v5M437 221.5h5M439.5 215V227.9M437 215h5M437 227.9h5M441 216.8v5M438.5 219.3h5M441 214V224.6M438.5 214h5M438.5 224.6h5M442.3 214.3v5M439.8 216.8h5M442.3 212.6V221M439.8 212.6h5M439.8 221h5M443.8 210.1v5M441.3 212.6h5M443.8 209.2V216M441.3 209.2h5M441.3 216h5M445.3 203.4v5M442.8 205.9h5M445.3 202.3V209.5M442.8 202.3h5M442.8 209.5h5M446.8 200.1v5M444.3 202.6h5M446.8 200.4V204.7M444.3 200.4h5M444.3 204.7h5M448.5 200.2v5M446 202.7h5M448.5 200.5V204.8M446 200.5h5M446 204.8h5" stroke="#44aa00"/>
<path d="M55.5 22.70L170.4 21.7L207.8 27.8L229.6 31.4L245.2 34.6L257.2 38.3L267.1 41.5L275.4 44.8L282.6 48.2L288.9 51.4L294.6 54.5L299.8 57.5L304.5 60.6L308.8 63.7L312.8 66.5L316.5 69.5L320 72.2L323.3 74.9L326.3 77.5L329.3 80.2L332 82.7L334.7 85.2L337.2 87.6L339.6 90L341.9 92.1L344.1 94.5L346.2 96.7L348.2 98.8L350.2 100.9L352.1 102.8L353.9 105.1L355.9 107L357.5 109L359.1 110.9L360.9 112.9L362.6 114.8L364.4 117.1L366.1 119L367.8 121.2L369.4 122.8L371.1 125L373.1 127.6L374.8 129.3L376.7 132.1L378.7 134.4L380.6 137.2L382.3 139L383.9 140.8L385.5 142.7L387.1 144.7L388.8 146.9L390.8 149.4L392.5 152.4L394.5 154.1L396.2 156.7L398 158.9L400 162L401.7 164.5L403.5 167L405.1 169.1L406.9 172.1L408.6 174.7L410.4 176.3L412.3 178.9L414.1 182.3L415.9 184L417.8 186.7L419.5 188.6L421.3 192.6L423 195.3L424.8 197.8L426.4 199.9L428 202.2L429.6 205.7L431.5 207.8L433.1 217.2L434.9 225.3L436.5 235.1L438.1 246.7L440 254.5L441.8 270.4L443.8 272.3L445.5 282.9L447.2 292.6L449 276.1" stroke="#00ff44"/>
<path d="M55.5 22.55H164.4" stroke="#50e682" stroke-width="2.1"/>
<path d="M170.4 19.2v5M167.9 21.7h5M207.8 25.3v5M205.3 27.8h5M229.6 28.9v5M227.1 31.4h5M245.2 32.1v5M242.7 34.6h5M257.2 35.8v5M254.7 38.3h5M267.1 39v5M264.6 41.5h5M275.4 42.3v5M272.9 44.8h5M282.6 45.7v5M280.1 48.2h5M288.9 48.9v5M286.4 51.4h5M294.6 52v5M292.1 54.5h5M299.8 55v5M297.3 57.5h5M304.5 58.1v5M302 60.6h5M308.8 61.2v5M306.3 63.7h5M312.8 64v5M310.3 66.5h5M316.5 67v5M314 69.5h5M320 69.7v5M317.5 72.2h5M323.3 72.4v5M320.8 74.9h5M326.3 75v5M323.8 77.5h5M329.3 77.7v5M326.8 80.2h5M332 80.2v5M329.5 82.7h5M334.7 82.7v5M332.2 85.2h5M337.2 85.1v5M334.7 87.6h5M339.6 87.5v5M337.1 90h5M341.9 89.6v5M339.4 92.1h5M344.1 92v5M341.6 94.5h5M346.2 94.2v5M343.7 96.7h5M348.2 96.3v5M345.7 98.8h5M350.2 98.4v5M347.7 100.9h5M352.1 100.3v5M349.6 102.8h5M353.9 102.6v5M351.4 105.1h5M355.9 104.5v5M353.4 107h5M357.5 106.5v5M355 109h5M359.1 108.4v5M356.6 110.9h5M360.9 110.4v5M358.4 112.9h5M362.6 112.3v5M360.1 114.8h5M364.4 114.6v5M361.9 117.1h5M366.1 116.5v5M363.6 119h5M367.8 118.7v5M365.3 121.2h5M369.4 120.3v5M366.9 122.8h5M371.1 122.5v5M368.6 125h5M373.1 125.1v5M370.6 127.6h5M374.8 126.8v5M372.3 129.3h5M376.7 129.6v5M374.2 132.1h5M378.7 131.9v5M376.2 134.4h5M380.6 134.7v5M378.1 137.2h5M382.3 136.5v5M379.8 139h5M383.9 138.3v5M381.4 140.8h5M385.5 140.2v5M383 142.7h5M387.1 142.2v5M384.6 144.7h5M388.8 144.4v5M386.3 146.9h5M390.8 146.9v5M388.3 149.4h5M392.5 149.9v5M390 152.4h5M394.5 151.6v5M392 154.1h5M396.2 154.2v5M393.7 156.7h5M398 156.4v5M395.5 158.9h5M400 159.5v5M397.5 162h5M401.7 162v5M399.2 164.5h5M403.5 164.5v5M401 167h5M405.1 166.6v5M402.6 169.1h5M406.9 169.6v5M404.4 172.1h5M408.6 172.2v5M406.1 174.7h5M410.4 173.8v5M407.9 176.3h5M412.3 176.4v5M409.8 178.9h5M414.1 179.8v5M411.6 182.3h5M415.9 181.5v5M413.4 184h5M417.8 184.2v5M415.3 186.7h5M419.5 186.1v5M417 188.6h5M421.3 190.1v5M418.8 192.6h5M421.3 191.3V193.8M418.8 191.3h5M418.8 193.8h5M423 192.8v5M420.5 195.3h5M423 194.1V196.6M420.5 194.1h5M420.5 196.6h5M424.8 195.3v5M422.3 197.8h5M426.4 197.4v5M423.9 199.9h5M426.4 198.1V201.8M423.9 198.1h5M423.9 201.8h5M428 199.7v5M425.5 202.2h5M428 200.7V203.6M425.5 200.7h5M425.5 203.6h5M429.6 203.2v5M427.1 205.7h5M431.5 205.3v5M429 207.8h5M431.5 206.3V209.4M429 206.3h5M429 209.4h5M433.1 214.7v5M430.6 217.2h5M433.1 214.7V219.7M430.6 214.7h5M430.6 219.7h5M434.9 222.8v5M432.4 225.3h5M434.9 223V227.6M432.4 223h5M432.4 227.6h5M436.5 232.6v5M434 235.1h5M436.5 232.6V237.6M434 232.6h5M434 237.6h5M438.1 244.2v5M435.6 246.7h5M438.1 242.1V251.2M435.6 242.1h5M435.6 251.2h5M440 252v5M437.5 254.5h5M440 250.2V258.9M437.5 250.2h5M437.5 258.9h5M441.8 267.9v5M439.3 270.4h5M441.8 262.1V278.6M439.3 262.1h5M439.3 278.6h5M443.8 269.8v5M441.3 272.3h5M443.8 264.9V279.7M441.3 264.9h5M441.3 279.7h5M445.5 280.4v5M443 282.9h5M445.5 274.9V290.9M443 274.9h5M443 290.9h5M447.2 290.1v5M444.7 292.6h5M447.2 286.5V298.8M444.7 286.5h5M444.7 298.8h5M449 273.6v5M446.5 276.1h5M449 268.4V283.8M446.5 268.4h5M446.5 283.8h5" stroke="#00ff44"/>
<path d="M55.5 24.40L182.4 23.9L219.8 29.4L241.7 33.2L257.2 37.7L269.3 41.5L279.1 45.6L287.4 49.5L294.6 53.2L301 56.8L306.7 60.6L311.8 64.2L316.5 67.7L320.8 71L324.8 74.3L328.5 77.6L332 80.6L335.3 83.7L338.4 86.7L341.3 89.5L344.1 92.2L346.7 94.9L349.2 97.5L351.6 100.2L353.9 102.7L356.1 105.1L358.2 107.4L360.3 109.7L362.2 112L364.1 114.4L366 116.5L367.7 118.6L369.4 120.5L371.1 122.6L372.7 124.7L374.3 126.7L375.8 128.8L377.3 130.4L378.7 132.2L380.1 134L381.4 135.3L382.8 137.5L384.2 139L385.5 140.8L386.8 142.6L388.1 144.5L389.6 146.4L390.9 148.2L392.1 149.9L393.7 152L395.1 153.9L396.4 155.3L397.8 156.9L398.6 158.1L399.3 157.1L400.1 159.1L400.9 159L401.7 161.5L402.5 161.8L403.3 161.2L404 162.5L404.9 162.2L405.7 164.7L406.5 163.7L407.2 166.6L407.9 166.6L408.8 167.1L409.6 166.4L410.4 166L411.3 168L412 168.3L412.9 169.7L413.6 170.3L414.4 171.2L415.2 172.8L416 176.6L416.8 176.8L417.7 178.4L418.4 178.7L419.1 183.3L420 186.4L420.8 189.2L421.6 191.8L423 196.2L424.3 199.3L425.6 201.4L426.9 204.5L428.2 207L429.8 208.5L431.1 210.6L432.5 212.1L433.7 214.4L435.1 216.3L436.4 217L437.9 219.9L439.4 221.1L440.7 220.5L442.2 220.2L443.8 218L445.3 215.9L446.7 215.1L448.2 213.5L449.5 212.4" stroke="#005555"/>
<path d="M182.4 21.4v5M179.9 23.9h5M219.8 26.9v5M217.3 29.4h5M241.7 30.7v5M239.2 33.2h5M257.2 35.2v5M254.7 37.7h5M269.3 39v5M266.8 41.5h5M279.1 43.1v5M276.6 45.6h5M287.4 47v5M284.9 49.5h5M294.6 50.7v5M292.1 53.2h5M301 54.3v5M298.5 56.8h5M306.7 58.1v5M304.2 60.6h5M311.8 61.7v5M309.3 64.2h5M316.5 65.2v5M314 67.7h5M320.8 68.5v5M318.3 71h5M324.8 71.8v5M322.3 74.3h5M328.5 75.1v5M326 77.6h5M332 78.1v5M329.5 80.6h5M335.3 81.2v5M332.8 83.7h5M338.4 84.2v5M335.9 86.7h5M341.3 87v5M338.8 89.5h5M344.1 89.7v5M341.6 92.2h5M346.7 92.4v5M344.2 94.9h5M349.2 95v5M346.7 97.5h5M351.6 97.7v5M349.1 100.2h5M353.9 100.2v5M351.4 102.7h5M356.1 102.6v5M353.6 105.1h5M358.2 104.9v5M355.7 107.4h5M360.3 107.2v5M357.8 109.7h5M362.2 109.5v5M359.7 112h5M364.1 111.9v5M361.6 114.4h5M366 114v5M363.5 116.5h5M367.7 116.1v5M365.2 118.6h5M369.4 118v5M366.9 120.5h5M371.1 120.1v5M368.6 122.6h5M372.7 122.2v5M370.2 124.7h5M374.3 124.2v5M371.8 126.7h5M375.8 126.3v5M373.3 128.8h5M377.3 127.9v5M374.8 130.4h5M378.7 129.7v5M376.2 132.2h5M380.1 131.5v5M377.6 134h5M381.4 132.8v5M378.9 135.3h5M382.8 135v5M380.3 137.5h5M384.2 136.5v5M381.7 139h5M385.5 138.3v5M383 140.8h5M386.8 140.1v5M384.3 142.6h5M388.1 142v5M385.6 144.5h5M389.6 143.9v5M387.1 146.4h5M390.9 145.7v5M388.4 148.2h5M392.1 147.4v5M389.6 149.9h5M393.7 149.5v5M391.2 152h5M395.1 151.4v5M392.6 153.9h5M396.4 152.8v5M393.9 155.3h5M397.8 154.4v5M395.3 156.9h5M398.6 155.6v5M396.1 158.1h5M399.3 154.6v5M396.8 157.1h5M400.1 156.6v5M397.6 159.1h5M400.9 156.5v5M398.4 159h5M401.7 159v5M399.2 161.5h5M402.5 159.3v5M400 161.8h5M403.3 158.7v5M400.8 161.2h5M404 160v5M401.5 162.5h5M404.9 159.7v5M402.4 162.2h5M405.7 162.2v5M403.2 164.7h5M406.5 161.2v5M404 163.7h5M407.2 164.1v5M404.7 166.6h5M407.9 164.1v5M405.4 166.6h5M408.8 164.6v5M406.3 167.1h5M409.6 163.9v5M407.1 166.4h5M410.4 163.5v5M407.9 166h5M411.3 165.5v5M408.8 168h5M412 165.8v5M409.5 168.3h5M412.9 167.2v5M410.4 169.7h5M413.6 167.8v5M411.1 170.3h5M414.4 168.7v5M411.9 171.2h5M415.2 170.3v5M412.7 172.8h5M416 174.1v5M413.5 176.6h5M416.8 174.3v5M414.3 176.8h5M417.7 175.9v5M415.2 178.4h5M418.4 176.2v5M415.9 178.7h5M419.1 180.8v5M416.6 183.3h5M420 183.9v5M417.5 186.4h5M420.8 186.7v5M418.3 189.2h5M421.6 189.3v5M419.1 191.8h5M423 193.7v5M420.5 196.2h5M423 194.9V197.5M420.5 194.9h5M420.5 197.5h5M424.3 196.8v5M421.8 199.3h5M425.6 198.9v5M423.1 201.4h5M425.6 200.1V202.8M423.1 200.1h5M423.1 202.8h5M426.9 202v5M424.4 204.5h5M426.9 203.1V205.8M424.4 203.1h5M424.4 205.8h5M428.2 204.5v5M425.7 207h5M428.2 205.5V208.5M425.7 205.5h5M425.7 208.5h5M429.8 206v5M427.3 208.5h5M429.8 207V210M427.3 207h5M427.3 210h5M431.1 208.1v5M428.6 210.6h5M431.1 208.7V212.4M428.6 208.7h5M428.6 212.4h5M432.5 209.6v5M430 212.1h5M432.5 210.7V213.4M430 210.7h5M430 213.4h5M433.7 211.9v5M431.2 214.4h5M433.7 212.9V215.9M431.2 212.9h5M431.2 215.9h5M435.1 213.8v5M432.6 216.3h5M435.1 213.9V218.7M432.6 213.9h5M432.6 218.7h5M436.4 214.5v5M433.9 217h5M436.4 215V219.1M433.9 215h5M433.9 219.1h5M437.9 217.4v5M435.4 219.9h5M437.9 217.3V222.6M435.4 217.3h5M435.4 222.6h5M439.4 218.6v5M436.9 221.1h5M439.4 218.7V223.5M436.9 218.7h5M436.9 223.5h5M440.7 218v5M438.2 220.5h5M440.7 218.5V222.6M438.2 218.5h5M438.2 222.6h5M442.2 217.7v5M439.7 220.2h5M442.2 217.6V222.9M439.7 217.6h5M439.7 222.9h5M443.8 215.5v5M441.3 218h5M443.8 215.9V220.1M441.3 215.9h5M441.3 220.1h5M445.3 213.4v5M442.8 215.9h5M445.3 214.1V217.8M442.8 214.1h5M442.8 217.8h5M446.7 212.6v5M444.2 215.1h5M446.7 212.7V217.5M444.2 212.7h5M444.2 217.5h5M448.2 211v5M445.7 213.5h5M448.2 211.9V215M445.7 211.9h5M445.7 215h5M449.5 209.9v5M447 212.4h5M449.5 210.2V214.5M447 210.2h5M447 214.5h5" stroke="#005555"/>
<path d="M55.5 24.4L57.5 24.4L59.5 24.4L61.5 24.4L63.5 24.4L65.5 24.4L67.5 24.4L69.5 24.4L71.5 24.4L73.5 24.4L75.5 24.4L77.5 24.4L79.5 24.4L81.5 24.4L83.5 24.4L85.5 24.4L87.5 24.4L89.5 24.4L91.5 24.4L93.5 24.4L95.5 24.4L97.5 24.4L99.5 24.4L101.5 24.4L103.5 24.4L105.5 24.4L107.5 24.4L109.5 24.4L111.5 24.4L113.5 24.4L115.5 24.4L117.5 24.4L119.5 24.4L121.5 24.4L123.5 24.4L125.5 24.4L127.5 24.4L129.5 24.4L131.5 24.4L133.5 24.4L135.5 24.4L137.5 24.4L139.5 24.4L141.5 24.4L143.5 24.4L145.5 24.4L147.5 24.4L149.5 24.4L151.5 24.4L153.5 24.4L155.5 24.4L157.5 24.4L159.5 24.4L161.5 24.4L163.5 24.4L165.5 24.4L167.5 24.4L169.5 24.5L171.5 24.5L173.5 24.5L175.5 24.6L177.5 24.6L179.5 24.7L181.5 24.8L183.5 24.9L185.5 25L187.5 25.3L189.5 25.5L191.5 25.7L193.5 26L195.5 26.3L197.5 26.6L199.5 26.8L201.5 27.1L203.5 27.4L205.5 27.6L207.5 27.9L209.5 28.2L211.5 28.5L213.5 28.9L215.5 29.2L217.5 29.5L219.5 29.8L221.5 30.1L223.5 30.5L225.5 30.8L227.5 31.1L229.5 31.4L231.5 31.8L233.5 32.1L235.5 32.5L237.5 32.9L239.5 33.3L241.5 33.7L243.5 34.2L245.5 34.8L247.5 35.3L249.5 35.9L251.5 36.5L253.5 37.1L255.5 37.7L257.5 38.3L259.5 38.9L261.5 39.6L263.5 40.2L265.5 40.8L267.5 41.5L269.5 42.2L271.5 43L273.5 43.8L275.5 44.6L277.5 45.5L279.5 46.4L281.5 47.3L283.5 48.3L285.5 49.2L287.5 50.2L289.5 51.2L291.5 52.3L293.5 53.3L295.5 54.4L297.5 55.5L299.5 56.7L301.5 57.9L303.5 59.2L305.5 60.5L307.5 61.8L309.5 63.2L311.5 64.7L313.5 66.1L315.5 67.6L317.5 69.1L319.5 70.7L321.5 72.3L323.5 74L325.5 75.6L327.5 77.4L329.5 79.1L331.5 80.9L333.5 82.7L335.5 84.6L337.5 86.5L339.5 88.4L341.5 90.4L343.5 92.4L345.5 94.4L347.5 96.5L349.5 98.6L351.5 100.8L353.5 102.9L355.5 105.2L357.5 107.4L359.5 109.7L361.5 112L363.5 114.3L365.5 116.7L367.5 119.1L369.5 121.5L371.5 123.9L373.5 126.4L375.5 128.9L377.5 131.4L379.5 134L381.5 136.6L383.5 139.2L385.5 141.8L387.5 144.4L389.5 147.1L391.5 149.8L393.5 152.5L395.5 155.2L397.5 158L399.5 160.7L401.5 163.5L403.5 166.3L405.5 169.2L407.5 172L409.5 174.9L411.5 177.7L413.5 180.6L415.5 183.5L417.5 186.4L419.5 189.4L421.5 192.3L423.5 195.2L425.5 198.2L427.5 201.2L429.5 204.2L431.5 207.2L433.5 210.2L435.5 213.2L437.5 216.2L439.5 219.3L441.5 222.3L443.5 225.4L445.5 228.4L447.5 231.5L449.5 234.6" stroke="#0000ff" stroke-width="1.6"/>
</g>
<path d="M55.5 11.0H450.5V297.5H55.5Z" stroke="#000" stroke-width="1" fill="none"/>
<g font-family="'Liberation Sans', sans-serif" font-size="13" fill="#000" stroke="#000" stroke-width="0.15" text-anchor="end" text-rendering="geometricPrecision">
<text x="230.4" y="118.1">T=0.2</text>
<text x="230.4" y="133.4">T=0.4</text>
<text x="230.4" y="148.7">T=1.0</text>
<text x="230.4" y="164.0">T=4.0</text>
<text x="230.4" y="179.3">T=16.0</text>
<text x="230.4" y="194.6">T=32.0</text>
<text x="230.4" y="209.9">Airy-2 covariance</text>
</g>
<path d="M235.3 114.3H261.4M248.4 111.8v5M245.9 114.3h5" stroke="#ff0000" stroke-width="1" fill="none"/>
<path d="M235.3 129.6H261.4M248.4 127.1v5M245.9 129.6h5" stroke="#aa4400" stroke-width="1" fill="none"/>
<path d="M235.3 144.9H261.4M248.4 142.4v5M245.9 144.9h5" stroke="#888800" stroke-width="1" fill="none"/>
<path d="M235.3 160.2H261.4M248.4 157.7v5M245.9 160.2h5" stroke="#44aa00" stroke-width="1" fill="none"/>
<path d="M235.3 175.5H261.4M248.4 173.0v5M245.9 175.5h5" stroke="#00ff44" stroke-width="1" fill="none"/>
<path d="M235.3 190.8H261.4M248.4 188.3v5M245.9 190.8h5" stroke="#005555" stroke-width="1" fill="none"/>
<path d="M235.3 206.0H261.4" stroke="#0000ff" stroke-width="1.4" fill="none"/>
<g font-family="'Liberation Sans', sans-serif" font-size="9.2" fill="#000" text-rendering="geometricPrecision">
<text x="49.4" y="14.0" text-anchor="end">1</text>
<text x="49.4" y="109.5" text-anchor="end">0.1</text>
<text x="49.4" y="205.0" text-anchor="end">0.01</text>
<text x="49.4" y="300.5" text-anchor="end">0.001</text>
<text x="56.6" y="309.5" text-anchor="middle">0.01</text>
<text x="180.9" y="309.5" text-anchor="middle">0.1</text>
<text x="305.1" y="309.5" text-anchor="middle">1</text>
<text x="430.1" y="309.5" text-anchor="middle">10</text>
</g>
<g font-family="'Liberation Sans', sans-serif" font-size="13" fill="#000" stroke="#000" stroke-width="0.15" text-anchor="middle" text-rendering="geometricPrecision">
<text x="253.2" y="324.8">v(t)θ</text>
<text transform="translate(12.3 154.3) rotate(-90)">u(t) C</text>
</g>
</svg>
</body></html>
